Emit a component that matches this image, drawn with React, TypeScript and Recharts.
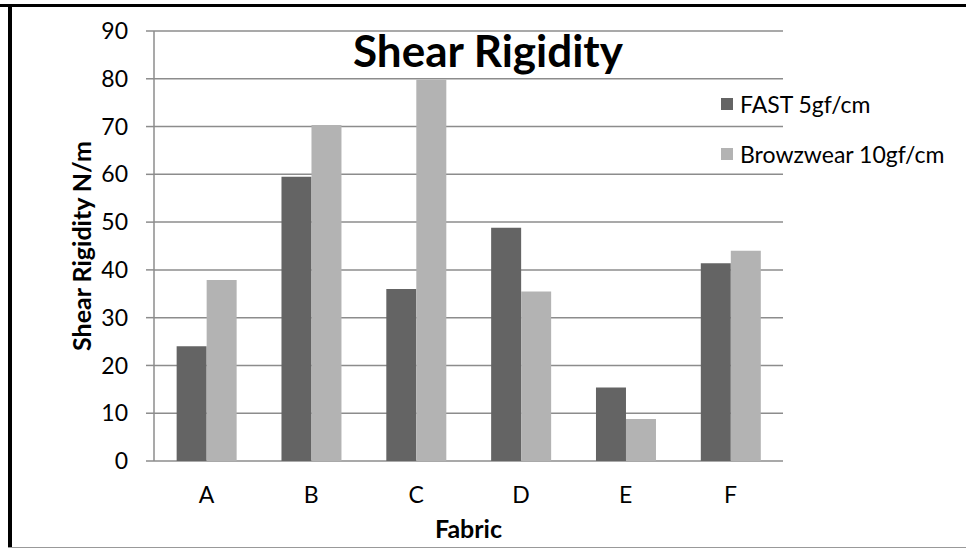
import React from "react";
import {
  BarChart,
  Bar,
  XAxis,
  YAxis,
  CartesianGrid,
  Legend,
  Label,
} from "recharts";

const fabrics = ["A", "B", "C", "D", "E", "F"];
const fastValues = [24, 59.5, 36, 48.8, 15.4, 41.4];
const browzwearValues = [37.9, 70.3, 79.8, 35.5, 8.8, 44];
const seriesNames = ["FAST 5gf/cm", "Browzwear 10gf/cm"];
const yTicks = [0, 10, 20, 30, 40, 50, 60, 70, 80, 90];
const boundaryTicks = [0, 1, 2, 3, 4, 5, 6];

const FONT = "Lato, 'Open Sans', sans-serif";
const GRID = "#8c8c8c";

const data = fabrics.map((name, i) => ({
  name,
  fast: fastValues[i],
  browzwear: browzwearValues[i],
}));

const YLabel = (props: any) => {
  const { viewBox } = props;
  const cx = viewBox.x + 27;
  const cy = viewBox.y + viewBox.height / 2;
  return (
    <text
      x={cx}
      y={cy}
      transform={`rotate(-90, ${cx}, ${cy})`}
      textAnchor="middle"
      dominantBaseline="central"
      fontFamily={FONT}
      fontWeight="bold"
      fontSize={25}
      fill="#000"
    >
      Shear Rigidity N/m
    </text>
  );
};

const XLabel = (props: any) => {
  const { viewBox } = props;
  return (
    <text
      x={viewBox.x + viewBox.width / 2}
      y={528}
      textAnchor="middle"
      dominantBaseline="central"
      fontFamily={FONT}
      fontWeight="bold"
      fontSize={25}
      fill="#000"
    >
      Fabric
    </text>
  );
};

const LegendBox = (props: any) => {
  const items = [...(props.payload || [])].sort(
    (a: any, b: any) => seriesNames.indexOf(a.value) - seriesNames.indexOf(b.value),
  );
  return (
    <div style={{ fontFamily: FONT, fontSize: 23, color: "#000" }}>
      {items.map((entry: any) => (
        <div
          key={entry.value}
          style={{
            display: "flex",
            alignItems: "center",
            height: 50,
            lineHeight: "50px",
            whiteSpace: "nowrap",
          }}
        >
          <span
            style={{
              width: 12,
              height: 12,
              background: entry.color,
              marginRight: 7,
              display: "inline-block",
              flex: "none",
            }}
          />
          <span>{entry.value}</span>
        </div>
      ))}
    </div>
  );
};

export default function App() {
  return (
    <div
      style={{
        position: "absolute",
        left: 0,
        top: 0,
        width: 966,
        height: 548,
        background: "#fff",
        overflow: "hidden",
      }}
    >
      <BarChart
        width={966}
        height={548}
        data={data}
        margin={{ top: 31, right: 183, left: 54, bottom: 0 }}
        barCategoryGap="21.6%"
        barGap={0}
      >
        <CartesianGrid vertical={false} stroke={GRID} strokeWidth={1.5} />
        <XAxis
          xAxisId="edges"
          type="number"
          domain={[0, 6]}
          ticks={boundaryTicks}
          height={0}
          tick={false}
          tickSize={8}
          axisLine={{ stroke: GRID, strokeWidth: 1.5 }}
          tickLine={{ stroke: GRID, strokeWidth: 1.5 }}
        />
        <XAxis
          dataKey="name"
          height={87}
          axisLine={false}
          tickLine={false}
          tickSize={0}
          tickMargin={26}
          tick={{ fontFamily: FONT, fontSize: 23, fill: "#000" }}
        >
          <Label content={XLabel} />
        </XAxis>
        <YAxis
          width={100}
          domain={[0, 90]}
          ticks={yTicks}
          interval={0}
          tickSize={8}
          tickMargin={18}
          axisLine={{ stroke: GRID, strokeWidth: 1.5 }}
          tickLine={{ stroke: GRID, strokeWidth: 1.5 }}
          tick={{ fontFamily: FONT, fontSize: 23, fill: "#000" }}
        >
          <Label content={YLabel} />
        </YAxis>
        <Legend
          layout="vertical"
          align="center"
          verticalAlign="middle"
          content={LegendBox}
          wrapperStyle={{ left: 721, top: 79, width: 245, height: 100 }}
        />
        <Bar
          dataKey="fast"
          name={seriesNames[0]}
          fill="#646464"
          isAnimationActive={false}
        />
        <Bar
          dataKey="browzwear"
          name={seriesNames[1]}
          fill="#b3b3b3"
          isAnimationActive={false}
        />
      </BarChart>
      <div
        style={{
          position: "absolute",
          left: 353,
          top: 24,
          fontFamily: FONT,
          fontWeight: "bold",
          fontSize: 44,
          color: "#000",
          whiteSpace: "nowrap",
        }}
      >
        Shear Rigidity
      </div>
      <div
        style={{
          position: "absolute",
          left: 0,
          top: 4,
          width: 966,
          height: 3,
          background: "#000",
        }}
      />
      <div
        style={{
          position: "absolute",
          left: 8,
          top: 4,
          width: 4,
          height: 544,
          background: "#000",
        }}
      />
      <div
        style={{
          position: "absolute",
          left: 8,
          top: 547,
          width: 958,
          height: 1,
          background: "#999",
        }}
      />
    </div>
  );
}
